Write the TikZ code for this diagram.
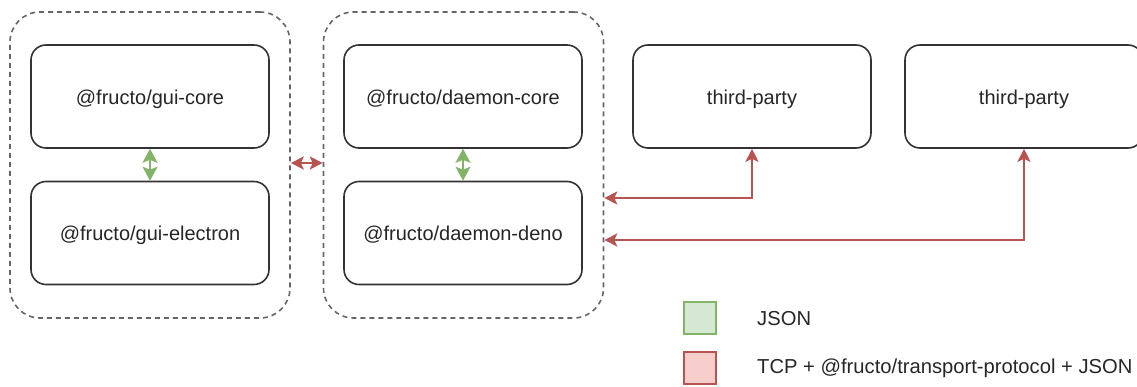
\documentclass[tikz,border=0pt]{standalone}
\usepackage{fontspec}
\setmainfont{Liberation Sans}
\usetikzlibrary{arrows.meta}
\definecolor{boxline}{HTML}{333333}
\definecolor{grpline}{HTML}{666666}
\definecolor{redline}{HTML}{B85450}
\definecolor{redfill}{HTML}{F8CECC}
\definecolor{greenline}{HTML}{82B366}
\definecolor{greenfill}{HTML}{D5E8D4}
\tikzset{
  pkg/.style={draw=boxline, line width=1.6pt, rounded corners=15pt, minimum width=238pt, minimum height=103pt, inner sep=0pt, text height=16pt, text depth=0pt, font=\fontsize{20}{24}\selectfont, text=black!85},
  grp/.style={draw=grpline, line width=1.6pt, dash pattern=on 5pt off 4pt, rounded corners=30pt, minimum width=280pt, minimum height=306pt, inner sep=0pt},
  redarr/.style={draw=redline, line width=1.6pt, {Stealth[length=13pt,width=13pt,inset=3pt]}-{Stealth[length=13pt,width=13pt,inset=3pt]}},
  greenarr/.style={draw=greenline, line width=1.6pt, {Stealth[length=14pt,width=15pt,inset=3pt]}-{Stealth[length=14pt,width=15pt,inset=3pt]}},
  legbox/.style={line width=1.6pt, minimum width=32pt, minimum height=32pt, inner sep=0pt},
  legtext/.style={anchor=west, font=\fontsize{20.2}{24}\selectfont, text=black!85, inner sep=0pt}
}
\begin{document}
\begin{tikzpicture}[x=1pt,y=-1pt]
\useasboundingbox (0,0) rectangle (1137,387);
\node[grp] (g1) at (150,165) {};
\node[grp] (g2) at (463.5,165) {};
\node[pkg] (guicore) at (150,96.5) {@fructo/gui-core};
\node[pkg] (guiel) at (150,233) {@fructo/gui-electron};
\node[pkg] (dcore) at (463,96.5) {@fructo/daemon-core};
\node[pkg] (ddeno) at (463,233) {@fructo/daemon-deno};
\node[pkg] (tp1) at (752,96.5) {third-party};
\node[pkg] (tp2) at (1024,96.5) {third-party};
\draw[greenarr] (guicore.south) -- (guiel.north);
\draw[greenarr] (dcore.south) -- (ddeno.north);
\coordinate (c1) at (g1.east |- 0,163);
\coordinate (c2) at (g2.west |- 0,163);
\draw[redarr] (c1) -- (c2);
\coordinate (e1) at (g2.east |- 0,198);
\coordinate (e2) at (g2.east |- 0,240);
\draw[redarr] (e1) -| (tp1.south);
\draw[redarr] (e2) -| (tp2.south);
\node[legbox, draw=greenline, fill=greenfill] (lg) at (700,318) {};
\node[legbox, draw=redline, fill=redfill] (lr) at (700,368) {};
\node[legtext] (tg) at (757,319) {JSON};
\node[legtext] (tr) at (757,368) {TCP + @fructo/transport-protocol + JSON};
\end{tikzpicture}
\end{document}
